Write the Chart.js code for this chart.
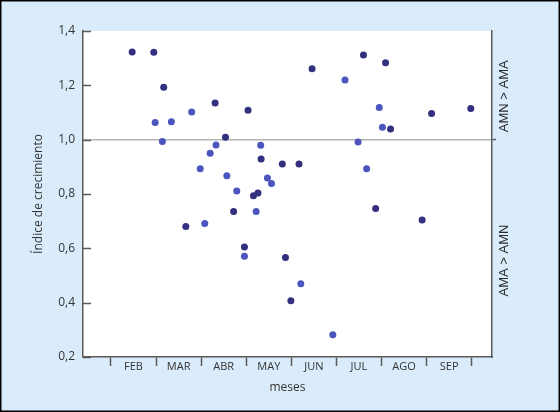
<!DOCTYPE html>
<html>
<head>
<meta charset="utf-8">
<script src="https://cdn.jsdelivr.net/npm/chart.js@4/dist/chart.umd.min.js"></script>
<style>
  html, body { margin: 0; padding: 0; background: #daecfb; }
  canvas { display: block; }
</style>
</head>
<body>
<canvas id="c" width="560" height="412"></canvas>
<script>
// Month names (labels between month boundaries)
const months = ['FEB', 'MAR', 'ABR', 'MAY', 'JUN', 'JUL', 'AGO', 'SEP'];
// Month boundaries (2 = start of February ... 10 = start of October)
const monthBounds = [2, 3, 4, 5, 6, 7, 8, 9, 10];
// Y ticks
const yTicks = [0.2, 0.4, 0.6, 0.8, 1.0, 1.2, 1.4];

// Dark series (time in months, growth index)
const darkX = [2.47, 2.95, 3.17, 4.31, 5.04, 4.54, 5.33, 5.16, 5.26, 5.80, 6.17, 4.72, 3.66, 4.96, 6.46, 7.60, 8.09, 9.11, 9.98, 8.20, 7.87, 8.90, 5.87, 5.99];
const darkY = [1.323, 1.322, 1.193, 1.135, 1.108, 1.009, 0.929, 0.794, 0.804, 0.910, 0.910, 0.736, 0.680, 0.605, 1.261, 1.312, 1.283, 1.096, 1.115, 1.039, 0.747, 0.704, 0.566, 0.407];

// Light series
const lightX = [2.98, 3.34, 3.79, 3.14, 4.33, 4.20, 5.32, 3.98, 4.57, 5.47, 5.56, 4.79, 5.22, 4.08, 4.96, 7.19, 7.95, 8.02, 7.48, 7.67, 6.21, 6.92];
const lightY = [1.063, 1.066, 1.102, 0.993, 0.980, 0.950, 0.979, 0.893, 0.867, 0.859, 0.839, 0.811, 0.736, 0.691, 0.571, 1.220, 1.118, 1.046, 0.991, 0.893, 0.470, 0.282];

const rightLabels = ['AMN > AMA', 'AMA > AMN'];
const rightLabelValues = [1.16, 0.555];

const toPts = (xs, ys) => xs.map((x, i) => ({ x: x, y: ys[i] }));

const FONT = "'Open Sans', 'DejaVu Sans', sans-serif";
const AXIS_COLOR = '#5a5a5a';

const bgPlugin = {
  id: 'bg',
  beforeDraw(chart) {
    const { ctx, chartArea: a } = chart;
    ctx.save();
    ctx.fillStyle = '#daecfb';
    ctx.fillRect(0, 0, chart.width, chart.height);
    ctx.fillStyle = '#ffffff';
    ctx.fillRect(a.left, a.top, a.right - a.left, a.bottom - a.top);
    ctx.restore();
  },
  afterDraw(chart) {
    const { ctx, chartArea: a } = chart;
    const ys = chart.scales.y;
    ctx.save();
    // inward ticks on the left axis
    ctx.strokeStyle = AXIS_COLOR;
    ctx.lineWidth = 1.5;
    yTicks.forEach(v => {
      const p = Math.round(ys.getPixelForValue(v)) + 0.5;
      ctx.beginPath();
      ctx.moveTo(a.left, p);
      ctx.lineTo(a.left + 8, p);
      ctx.stroke();
    });
    // right side labels
    ctx.fillStyle = '#2a2a2a';
    ctx.font = "13px 'Liberation Sans', Arial, sans-serif";
    ctx.textAlign = 'center';
    ctx.textBaseline = 'middle';
    rightLabels.forEach((t, i) => {
      const yy = ys.getPixelForValue(rightLabelValues[i]);
      ctx.save();
      ctx.translate(a.right + 12, yy);
      ctx.rotate(-Math.PI / 2);
      ctx.fillText(t, 0, 0);
      ctx.restore();
    });
    // outer frame
    ctx.strokeStyle = '#000';
    ctx.lineWidth = 3;
    ctx.strokeRect(0, 0, chart.width, chart.height);
    ctx.restore();
  }
};

new Chart(document.getElementById('c'), {
  type: 'scatter',
  data: {
    datasets: [
      {
        label: 'light',
        data: toPts(lightX, lightY),
        backgroundColor: '#4b55bd',
        pointRadius: 3.5,
        pointBorderWidth: 0,
        pointHoverRadius: 3.5
      },
      {
        label: 'dark',
        data: toPts(darkX, darkY),
        backgroundColor: '#33307f',
        pointRadius: 3.5,
        pointBorderWidth: 0,
        pointHoverRadius: 3.5
      }
    ]
  },
  options: {
    responsive: false,
    animation: false,
    events: [],
    layout: { padding: { left: 0, right: 68, top: 31, bottom: 0 } },
    plugins: { legend: { display: false }, tooltip: { enabled: false } },
    scales: {
      x: {
        type: 'linear',
        position: 'bottom',
        min: 1.38,
        max: 10.45,
        afterBuildTicks(scale) {
          const t = monthBounds.map(v => ({ value: v }));
          months.forEach((m, i) => t.push({ value: monthBounds[i] + 0.5 }));
          t.sort((a, b) => a.value - b.value);
          scale.ticks = t;
        },
        afterFit(scale) { scale.height = 55; },
        border: { display: true, color: AXIS_COLOR, width: 1.5 },
        grid: {
          drawOnChartArea: false,
          drawTicks: true,
          tickLength: 9,
          tickWidth: 1.5,
          tickColor: ctx => (ctx.tick && Number.isInteger(ctx.tick.value)) ? AXIS_COLOR : 'rgba(0,0,0,0)'
        },
        ticks: {
          autoSkip: false,
          maxRotation: 0,
          padding: -6,
          color: '#333',
          font: { family: FONT, size: 11 },
          callback: v => Number.isInteger(v) ? '' : months[Math.floor(v) - 2]
        },
        title: {
          display: true,
          text: 'meses',
          color: '#333',
          font: { family: FONT, size: 12 },
          padding: { top: 0, bottom: 17 }
        }
      },
      y: {
        type: 'linear',
        position: 'left',
        min: 0.2,
        max: 1.4,
        afterBuildTicks(scale) { scale.ticks = yTicks.map(v => ({ value: v })); },
        afterFit(scale) { scale.width = 83; },
        border: { display: true, color: AXIS_COLOR, width: 1.5 },
        grid: {
          drawOnChartArea: true,
          drawTicks: false,
          lineWidth: 1.5,
          color: ctx => (ctx.tick && Math.abs(ctx.tick.value - 1.0) < 1e-6) ? '#b4b4b4' : 'rgba(0,0,0,0)'
        },
        ticks: {
          padding: 8,
          color: '#333',
          font: { family: FONT, size: 12 },
          callback: v => v.toFixed(1).replace('.', ',')
        },
        title: {
          display: true,
          text: 'Índice de crecimiento',
          color: '#333',
          font: { family: FONT, size: 12 },
          padding: { top: 31, bottom: 0 }
        }
      },
      y2: {
        type: 'linear',
        position: 'right',
        min: 0.2,
        max: 1.4,
        afterBuildTicks(scale) { scale.ticks = [{ value: 1.0 }]; },
        afterFit(scale) { scale.width = 0; },
        border: { display: true, color: AXIS_COLOR, width: 1.5 },
        grid: { drawOnChartArea: false, drawTicks: true, tickLength: 4, tickWidth: 1.5, tickColor: AXIS_COLOR },
        ticks: { display: false }
      }
    }
  },
  plugins: [bgPlugin]
});
</script>
</body>
</html>
